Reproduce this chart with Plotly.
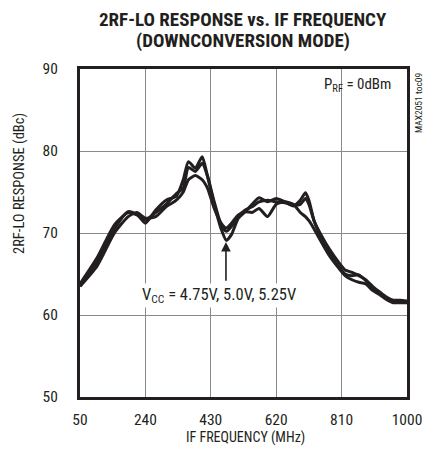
import plotly.graph_objects as go

freq = [50, 100, 150, 190, 215, 240, 270, 300, 330, 350, 365, 385, 405, 420, 440, 460, 475, 490, 510, 530,
        550, 570, 595, 620, 645, 670, 690, 705, 715, 730, 750, 775, 800, 820, 840, 860, 880, 900, 920, 940,
        960, 980, 1000]
v475 = [63.5, 66.5, 70.5, 72.6, 72.3, 71.2, 72.8, 74.0, 74.5, 76.5, 78.7, 77.9, 79.3, 77.0, 73.5, 70.5, 69.1,
        69.8, 71.8, 72.6, 73.5, 74.3, 73.8, 74.2, 73.8, 73.3, 74.0, 74.9, 74.0, 71.5, 69.5, 67.5, 66.0, 65.0,
        64.8, 64.9, 64.2, 63.3, 62.8, 62.0, 61.6, 61.7, 61.6]
v500 = [63.8, 67.0, 71.0, 72.5, 72.2, 71.6, 72.5, 73.5, 74.8, 75.5, 78.0, 77.5, 78.5, 77.0, 73.8, 71.0, 70.2,
        70.8, 72.0, 72.8, 73.2, 73.8, 74.0, 73.8, 73.7, 73.4, 73.5, 74.2, 73.5, 71.5, 69.8, 68.0, 66.5, 65.5,
        65.2, 64.8, 64.3, 63.5, 62.8, 62.2, 61.8, 61.8, 61.7]
v525 = [63.5, 66.0, 70.0, 72.0, 72.5, 71.8, 72.0, 73.2, 74.0, 75.0, 76.5, 77.0, 76.5, 75.5, 73.0, 71.2, 70.6,
        71.2, 72.2, 72.6, 72.5, 73.0, 72.0, 73.5, 73.8, 73.5, 72.5, 72.0, 71.5, 70.5, 69.0, 67.2, 65.8, 64.8,
        64.3, 64.0, 63.8, 63.0, 62.5, 61.9, 61.5, 61.5, 61.5]
series = {"4.75V": v475, "5.0V": v500, "5.25V": v525}

x_ticks = [50, 240, 430, 620, 810, 1000]
y_ticks = [50, 60, 70, 80, 90]

FONT = "Liberation Sans Narrow, Arial Narrow, Roboto Condensed, sans-serif"
INK = "#231f20"

# page body has an 8px margin; the figure is sized so that it ends at the window edge
OFF = 8
W, H = 436 - OFF, 454 - OFF
PL, PR, PT, PB = 80, 407, 69, 397          # plot-area edges in window pixels
L, R, T, B = PL - OFF, 436 - PR, PT - OFF, 454 - PB
PW, PH = PR - PL, PB - PT


def px(xp):
    return (xp - PL) / PW


def py(yp):
    return (PB - yp) / PH


fig = go.Figure()
for name, vals in series.items():
    fig.add_trace(go.Scatter(x=freq, y=vals, mode="lines", name=name,
                             line=dict(color=INK, width=3, shape="spline", smoothing=0.6),
                             showlegend=False))

axis_common = dict(showgrid=True, gridcolor="#8a8a8a", gridwidth=1, showline=True, linecolor=INK,
                   linewidth=3, mirror=True, ticks="", zeroline=False, automargin=False,
                   tickfont=dict(family=FONT, size=15.5, color=INK))

fig.update_layout(
    width=W, height=H,
    margin=dict(l=L, r=R, t=T, b=B),
    paper_bgcolor="white", plot_bgcolor="white",
    font=dict(family=FONT, color=INK),
    xaxis=dict(range=[50, 1000], tickvals=x_ticks, ticktext=[str(t) for t in x_ticks],
               ticklabelstandoff=6, **axis_common),
    yaxis=dict(range=[50, 90], tickvals=y_ticks, ticktext=[str(t) for t in y_ticks],
               ticklabelstandoff=16, **axis_common),
)

# title lines
fig.add_annotation(x=px(243), y=py(19), xref="paper", yref="paper", xanchor="center", yanchor="middle",
                   text="<b>2RF-LO RESPONSE vs. IF FREQUENCY</b>", showarrow=False,
                   font=dict(family=FONT, size=19, color=INK))
fig.add_annotation(x=px(243), y=py(41), xref="paper", yref="paper", xanchor="center", yanchor="middle",
                   text="<b>(DOWNCONVERSION MODE)</b>", showarrow=False,
                   font=dict(family=FONT, size=19, color=INK))
# axis titles
fig.add_annotation(x=px(245), y=py(437), xref="paper", yref="paper", xanchor="center", yanchor="middle",
                   text="IF FREQUENCY (MHz)", showarrow=False, font=dict(family=FONT, size=14, color=INK))
fig.add_annotation(x=px(19), y=py(184), xref="paper", yref="paper", xanchor="center", yanchor="middle",
                   text="2RF-LO RESPONSE (dBc)", textangle=-90, showarrow=False,
                   font=dict(family=FONT, size=14.5, color=INK))

fig.add_annotation(x=960, y=88.1, xref="x", yref="y", text="P<sub>RF</sub> = 0dBm", showarrow=False,
                   xanchor="right", yanchor="middle", font=dict(family=FONT, size=15, color=INK))
fig.add_annotation(x=454, y=62.4, xref="x", yref="y", text="V<sub>CC</sub> = 4.75V, 5.0V, 5.25V",
                   showarrow=False, xanchor="center", yanchor="middle",
                   bgcolor="white", font=dict(family=FONT, size=16.5, color=INK))
fig.add_annotation(x=474, y=68.9, ax=474, ay=64.0, xref="x", yref="y", axref="x", ayref="y", text="",
                   showarrow=True, arrowhead=2, arrowsize=1.2, arrowwidth=1.6, arrowcolor=INK)
fig.add_annotation(x=px(418), y=py(103), xref="paper", yref="paper", xanchor="center", yanchor="middle",
                   text="MAX2051 toc09", textangle=-90, showarrow=False,
                   font=dict(family=FONT, size=9.5, color=INK))

fig.write_html("out.html")
